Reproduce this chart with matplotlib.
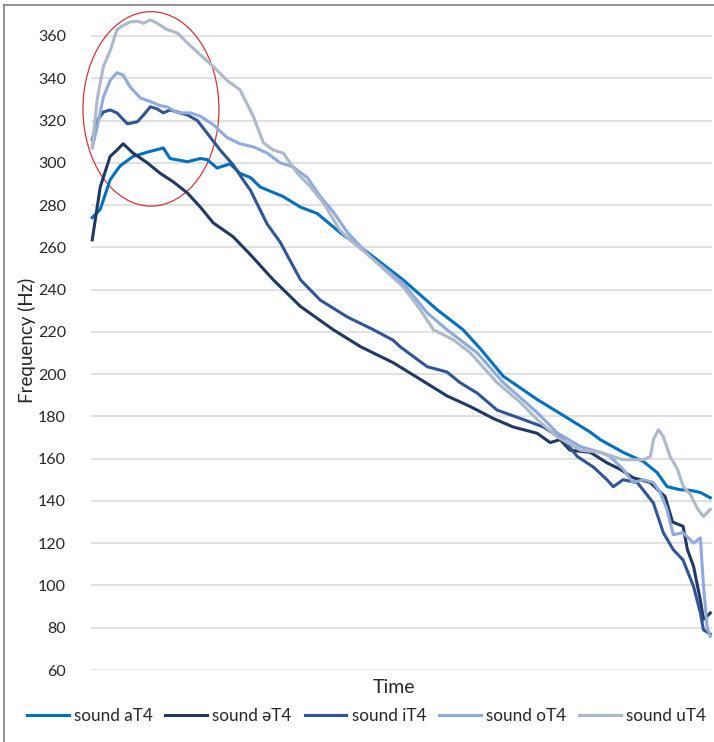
import matplotlib
matplotlib.use("Agg")
import matplotlib.pyplot as plt
from matplotlib.patches import Ellipse
from matplotlib.lines import Line2D

plt.rcParams['font.family'] = ['Lato', 'DejaVu Sans']

# time is given in % of the utterance, frequency in Hz
a_time = [0, 1.3, 2.9, 4.5, 6.6, 8.9, 11.5, 12.6, 15.4, 17.5, 18.6, 20.2, 22.3, 23.9, 25.6, 27.2,
          30.9, 33.7, 36.4, 40.1, 44.5, 50.3, 55.8, 60.0, 62.8, 66.5, 72.0, 77.3, 80.6, 82.2, 85.9,
          89.2, 91.4, 93.0, 95.1, 96.8, 98.4, 100]
a_hz = [274, 278, 292, 298.5, 303, 305, 307, 302, 300.5, 302, 301.5, 297.5, 299.5, 295, 293, 288.5,
        284, 279, 276, 267, 257.7, 244.6, 230.5, 221, 212, 199, 188, 178.5, 172.5, 169, 163,
        158.6, 153.4, 146.8, 145.3, 145, 144, 141.5]

schwa_time = [0, 1.3, 2.9, 4.0, 5.0, 6.6, 8.9, 11.0, 13.1, 15.4, 17.5, 19.6, 22.8, 25.6, 29.3, 33.7,
              39.0, 43.4, 48.7, 53.1, 57.4, 61.2, 64.9, 68.1, 72.0, 74.1, 75.7, 77.3, 80.6, 83.3,
              85.4, 87.5, 90.3, 92.7, 93.9, 95.6, 96.3, 97.3, 98.4, 98.9, 99.5, 100]
schwa_hz = [263.5, 288.6, 303, 306, 309, 304.6, 300, 295, 291, 285.7, 279, 271.5, 265, 256.5, 244.6, 232,
            221, 213, 205.4, 197.5, 189.7, 184.6, 179, 175, 172, 167.6, 169, 164, 163, 158,
            155, 151, 148.7, 142, 130, 128, 117, 109, 93, 84, 85.5, 87]

i_time = [0, 0.8, 1.8, 2.9, 4.0, 5.7, 7.3, 8.3, 9.4, 10.5, 11.5, 12.6, 15.4, 17.0, 18.6, 20.7, 22.8,
          24.4, 25.6, 28.3, 30.4, 33.7, 36.9, 41.3, 45.5, 48.7, 49.8, 54.2, 57.4, 59.5, 62.3, 65.5,
          69.3, 73.0, 76.2, 78.5, 81.1, 83.3, 84.3, 85.9, 88.2, 90.8, 92.4, 94.0, 95.6, 97.3, 98.4,
          98.9, 100]
i_hz = [311, 320, 324, 325, 323.6, 318.4, 319.4, 322.6, 326.5, 325.5, 323.6, 325, 322.6, 320, 314, 306, 299,
        292, 287, 271, 262.5, 244.6, 235, 227, 221, 216, 213, 203.5, 201, 196, 191, 183,
        179, 175, 169, 161, 156, 150, 146.7, 150, 148.7, 139, 125, 117, 112, 99.5, 87,
        79, 77]

o_time = [0, 0.8, 1.8, 2.9, 4.0, 5.0, 6.1, 7.8, 9.4, 11.0, 12.1, 13.8, 15.9, 17.5, 19.6, 21.8, 23.9,
          26.1, 28.3, 30.4, 32.5, 34.8, 36.9, 39.0, 41.3, 45.0, 50.3, 54.2, 57.4, 62.3, 66.5, 72.0,
          75.2, 79.0, 82.2, 83.8, 85.9, 87.5, 89.2, 90.8, 91.9, 93.0, 94.0, 95.6, 97.3, 98.4, 98.9,
          99.5, 100]
o_hz = [307, 317, 331, 339, 342.6, 341.5, 336, 330.6, 329, 327, 326.5, 323.6, 323.6, 322, 318, 312, 309,
        307.5, 304.6, 300, 298, 293, 284, 276.8, 267, 255.5, 243, 229, 221, 210, 196, 181.8,
        172.3, 165.7, 163, 161, 155, 148.7, 150, 148.7, 144, 136, 124, 125, 120, 122.5, 100,
        80, 76]

u_time = [0, 0.8, 1.8, 2.9, 4.0, 5.0, 6.1, 7.3, 8.3, 9.4, 10.5, 12.1, 13.8, 15.4, 17.5, 19.6, 21.8,
          23.9, 26.1, 27.7, 29.3, 30.9, 33.2, 35.3, 37.4, 40.1, 41.7, 45.0, 50.3, 53.1, 55.2, 58.4,
          61.2, 65.5, 69.3, 72.0, 75.2, 79.0, 82.2, 85.9, 89.2, 90.3, 90.8, 91.6, 92.4, 93.5, 94.7,
          95.6, 96.8, 98.0, 98.9, 100]
u_hz = [307.5, 330, 345.5, 353, 363, 365, 366.6, 367, 366, 367.6, 366, 363, 361.4, 356.7, 351, 345.5, 339,
        334.5, 321.7, 309.4, 306, 304.6, 295, 288.6, 281, 268, 263.5, 255.5, 241.3, 230.4, 221, 216.3,
        210, 196, 186.5, 178.5, 170.4, 164, 163, 159.5, 159.5, 161, 169, 173.7, 170.4, 161, 155,
        147, 143, 136, 132.7, 136]

series = [
    ("sound aT4", a_time, a_hz, "#0070C0"),
    ("sound əT4", schwa_time, schwa_hz, "#1F3864"),
    ("sound iT4", i_time, i_hz, "#2F5597"),
    ("sound oT4", o_time, o_hz, "#8FAADC"),
    ("sound uT4", u_time, u_hz, "#ADB9CA"),
]
y_ticks = list(range(60, 361, 20))

fig = plt.figure(figsize=(7.14, 7.42), dpi=100)
ax = fig.add_axes([91 / 714, 72 / 742, 620.5 / 714, 659.4 / 742])

for name, t, hz, col in series:
    ax.plot(t, hz, color=col, lw=2.2, label=name, solid_joinstyle='round', clip_on=False)

ax.set_xlim(-0.2, 100.2)
ax.set_ylim(60, 372)
ax.set_yticks(y_ticks)
ax.set_xticks([])
ax.grid(axis='y', color='#D9D9D9', lw=1.1)
ax.set_axisbelow(True)
for s in ax.spines.values():
    s.set_visible(False)
ax.tick_params(axis='y', length=0, pad=18, labelsize=11.5, labelcolor='#262626')

ax.set_ylabel("Frequency (Hz)", fontsize=13.5, color='#262626')
ax.yaxis.set_label_coords(-0.088, 0.5)
ax.set_xlabel("Time", fontsize=14, color='#262626')
ax.xaxis.set_label_coords(0.488, -0.013)

# red ellipse marking the onset region
ell = Ellipse((9.5, 325.5), 22.0, 92.0, fill=False, edgecolor='#D83434', lw=0.9, clip_on=False)
ax.add_patch(ell)

fig.legend(loc='center', bbox_to_anchor=(0.513, 1 - 716 / 742), ncol=5, frameon=False,
           fontsize=12.3, handlelength=2.45, handletextpad=0.3, columnspacing=0.75,
           labelcolor='#262626', borderpad=0.2)

# outer frame of the figure (left and top edges are visible)
fig.add_artist(Line2D([4 / 714, 4 / 714], [0, 1 - 5 / 742], color='#7F7F7F', lw=1.2))
fig.add_artist(Line2D([4 / 714, 1], [1 - 5 / 742, 1 - 5 / 742], color='#7F7F7F', lw=1.2))

fig.savefig("out.png", dpi=100)
